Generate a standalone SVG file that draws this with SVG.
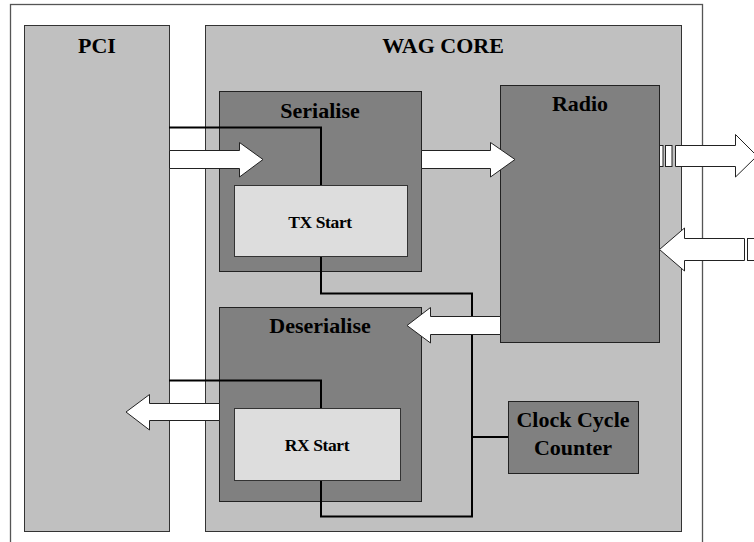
<svg xmlns="http://www.w3.org/2000/svg" width="754" height="542" viewBox="0 0 754 542">
<defs>
<style>
.frame{fill:#ffffff;stroke:#555555;stroke-width:1.3}
.light{fill:#c0c0c0;stroke:#333333;stroke-width:1}
.dark{fill:#808080;stroke:#222222;stroke-width:1}
.pale{fill:#dddddd;stroke:#333333;stroke-width:1}
.title{font-family:"Liberation Serif","Times New Roman",serif;font-weight:bold;font-size:22px;fill:#000000;text-anchor:middle}
.small{font-family:"Liberation Serif","Times New Roman",serif;font-weight:bold;font-size:17.5px;fill:#000000;text-anchor:middle;letter-spacing:-0.4px}
.wire{fill:none;stroke:#000000;stroke-width:2}
.barrow{fill:#ffffff;stroke:#222222;stroke-width:1}
</style>
</defs>
<rect class="frame" x="10.5" y="4.5" width="692" height="570"/>
<g id="pci">
<rect class="light" x="24.5" y="25.5" width="145" height="506"/>
<text class="title" x="97" y="53">PCI</text>
</g>
<g id="wag-core">
<rect class="light" x="205.5" y="25.5" width="476" height="506"/>
<text class="title" x="443" y="53">WAG CORE</text>
</g>
<g id="serialise">
<rect class="dark" x="219.5" y="91.5" width="202" height="180"/>
<text class="title" x="320" y="118">Serialise</text>
</g>
<g id="tx-start">
<rect class="pale" x="234.5" y="185.5" width="173" height="71"/>
<text class="small" x="320" y="228">TX Start</text>
</g>
<g id="radio">
<rect class="dark" x="500.5" y="85.5" width="159" height="257"/>
<text class="title" x="580" y="111">Radio</text>
</g>
<g id="deserialise">
<rect class="dark" x="219.5" y="307.5" width="202" height="194"/>
<text class="title" x="320" y="333">Deserialise</text>
</g>
<g id="rx-start">
<rect class="pale" x="234.5" y="408.5" width="166" height="72"/>
<text class="small" x="317" y="451">RX Start</text>
</g>
<g id="clock-cycle-counter">
<rect class="dark" x="508.5" y="401.5" width="130" height="72"/>
<text class="title" x="573" y="427">Clock Cycle</text>
<text class="title" x="573" y="455">Counter</text>
</g>
<g id="connectors">
<path class="wire" d="M169 127.5 H321 V185"/>
<path class="wire" d="M169 380.5 H321 V408"/>
<path class="wire" d="M321 257 V293.5 H472 V516.5 H321 V481"/>
<path class="wire" d="M472 437 H508"/>
<path class="barrow" d="M169.5 150.5 H239.5 V142.5 L263 159.5 L239.5 177 V168.5 H169.5 Z"/>
<path class="barrow" d="M421.5 150.5 H490.5 V142.5 L515 159.5 L490.5 177 V168.5 H421.5 Z"/>
<path class="barrow" d="M500.5 316.5 H430.5 V307.5 L407 325.5 L430.5 343 V334.5 H500.5 Z"/>
<path class="barrow" d="M219.5 403.5 H149.5 V394.5 L126 412 L149.5 430 V420.5 H219.5 Z"/>
<rect class="barrow" x="659.5" y="145.5" width="3.5" height="21"/>
<rect class="barrow" x="665.5" y="145.5" width="6.5" height="21"/>
<path class="barrow" d="M675.5 145.5 H735.5 V134.5 L757 156 L735.5 177 V166.5 H675.5 Z"/>
<path class="barrow" d="M744.5 238.5 H684.5 V228 L659.5 249.5 L684.5 271 V260.5 H744.5 Z"/>
<rect class="barrow" x="747.5" y="238.5" width="10" height="22"/>
</g>
</svg>
